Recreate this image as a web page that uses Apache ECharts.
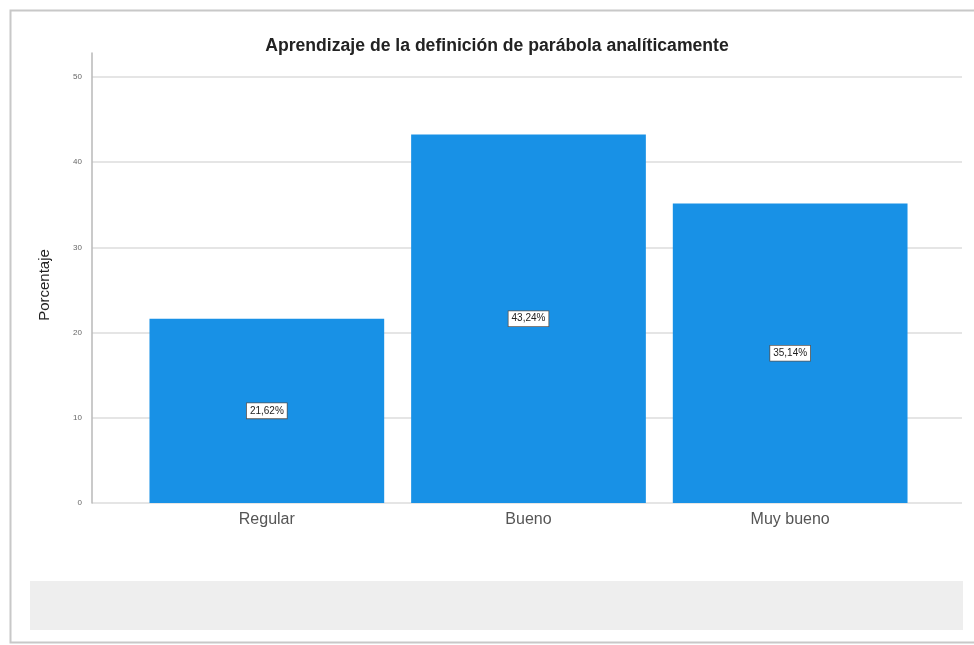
<!DOCTYPE html>
<html>
<head>
<meta charset="utf-8">
<script src="https://cdn.jsdelivr.net/npm/echarts@6/dist/echarts.min.js"></script>
<style>
  html, body { margin: 0; padding: 0; background: #ffffff; }
  #chart { width: 974px; height: 645px; }
</style>
</head>
<body>
<div id="chart"></div>
<script>
// Categories and percentage values of the bar chart
const categories = ['Regular', 'Bueno', 'Muy bueno'];
const percentages = [21.62, 43.24, 35.14];
const yTicks = [0, 10, 20, 30, 40, 50];

const chartTitle = 'Aprendizaje de la definición de parábola analíticamente';
const yAxisTitle = 'Porcentaje';

const formatPct = v => v.toFixed(2).replace('.', ',') + '%';

const chart = echarts.init(document.getElementById('chart'));

const yMax = 52.8;

chart.setOption({
  animation: false,
  backgroundColor: '#ffffff',
  title: {
    text: chartTitle,
    left: 492,
    textAlign: 'center',
    top: 32,
    textStyle: { fontFamily: 'Liberation Sans', fontSize: 17.6, fontWeight: 'bold', color: '#222' }
  },
  graphic: [
    // outer frame
    { type: 'rect', shape: { x: 10.5, y: 10.5, width: 970, height: 632 },
      style: { fill: 'none', stroke: '#c8c8c8', lineWidth: 2 }, silent: true, z: -10 },
    // footer band
    { type: 'rect', shape: { x: 30, y: 581, width: 933, height: 49 },
      style: { fill: '#eeeeee' }, silent: true, z: -10 }
  ],
  grid: [
    { left: 92, right: 12, top: 53, bottom: 142 },
    { left: 136, right: 53, top: 53, bottom: 142 }
  ],
  xAxis: [
    { type: 'value', gridIndex: 0, min: 0, max: 1, show: false },
    {
      type: 'category', gridIndex: 1, data: categories,
      axisLine: { show: false }, axisTick: { show: false },
      axisLabel: { fontFamily: 'Liberation Sans', fontSize: 16, color: '#555', margin: 9 }
    }
  ],
  yAxis: [
    {
      type: 'value', gridIndex: 0, min: 0, max: yMax, interval: 10,
      name: yAxisTitle, nameLocation: 'middle', nameGap: 40,
      nameTextStyle: { fontFamily: 'Liberation Sans', fontSize: 15, color: '#222', padding: [0, 14, 0, 0] },
      axisLine: { show: true, lineStyle: { color: '#b8b8b8', width: 1.5 } },
      axisTick: { show: false },
      axisLabel: {
        fontFamily: 'Liberation Sans', fontSize: 8, color: '#666', margin: 10,
        showMaxLabel: false,
        formatter: v => (yTicks.includes(v) ? String(v) : '')
      },
      splitLine: { show: true, showMaxLine: false, lineStyle: { color: '#dcdcdc', width: 1.5 } }
    },
    { type: 'value', gridIndex: 1, min: 0, max: yMax, show: false, splitLine: { show: false } }
  ],
  series: [{
    type: 'bar',
    xAxisIndex: 1,
    yAxisIndex: 1,
    data: percentages,
    barCategoryGap: '10.3%',
    itemStyle: { color: '#1891e6' },
    label: {
      show: true,
      position: 'inside',
      formatter: p => formatPct(p.value),
      fontFamily: 'Liberation Sans',
      fontSize: 10,
      color: '#222',
      backgroundColor: '#ffffff',
      borderColor: '#555',
      borderWidth: 0.8,
      padding: [3, 3, 2, 3]
    }
  }]
});
</script>
</body>
</html>
